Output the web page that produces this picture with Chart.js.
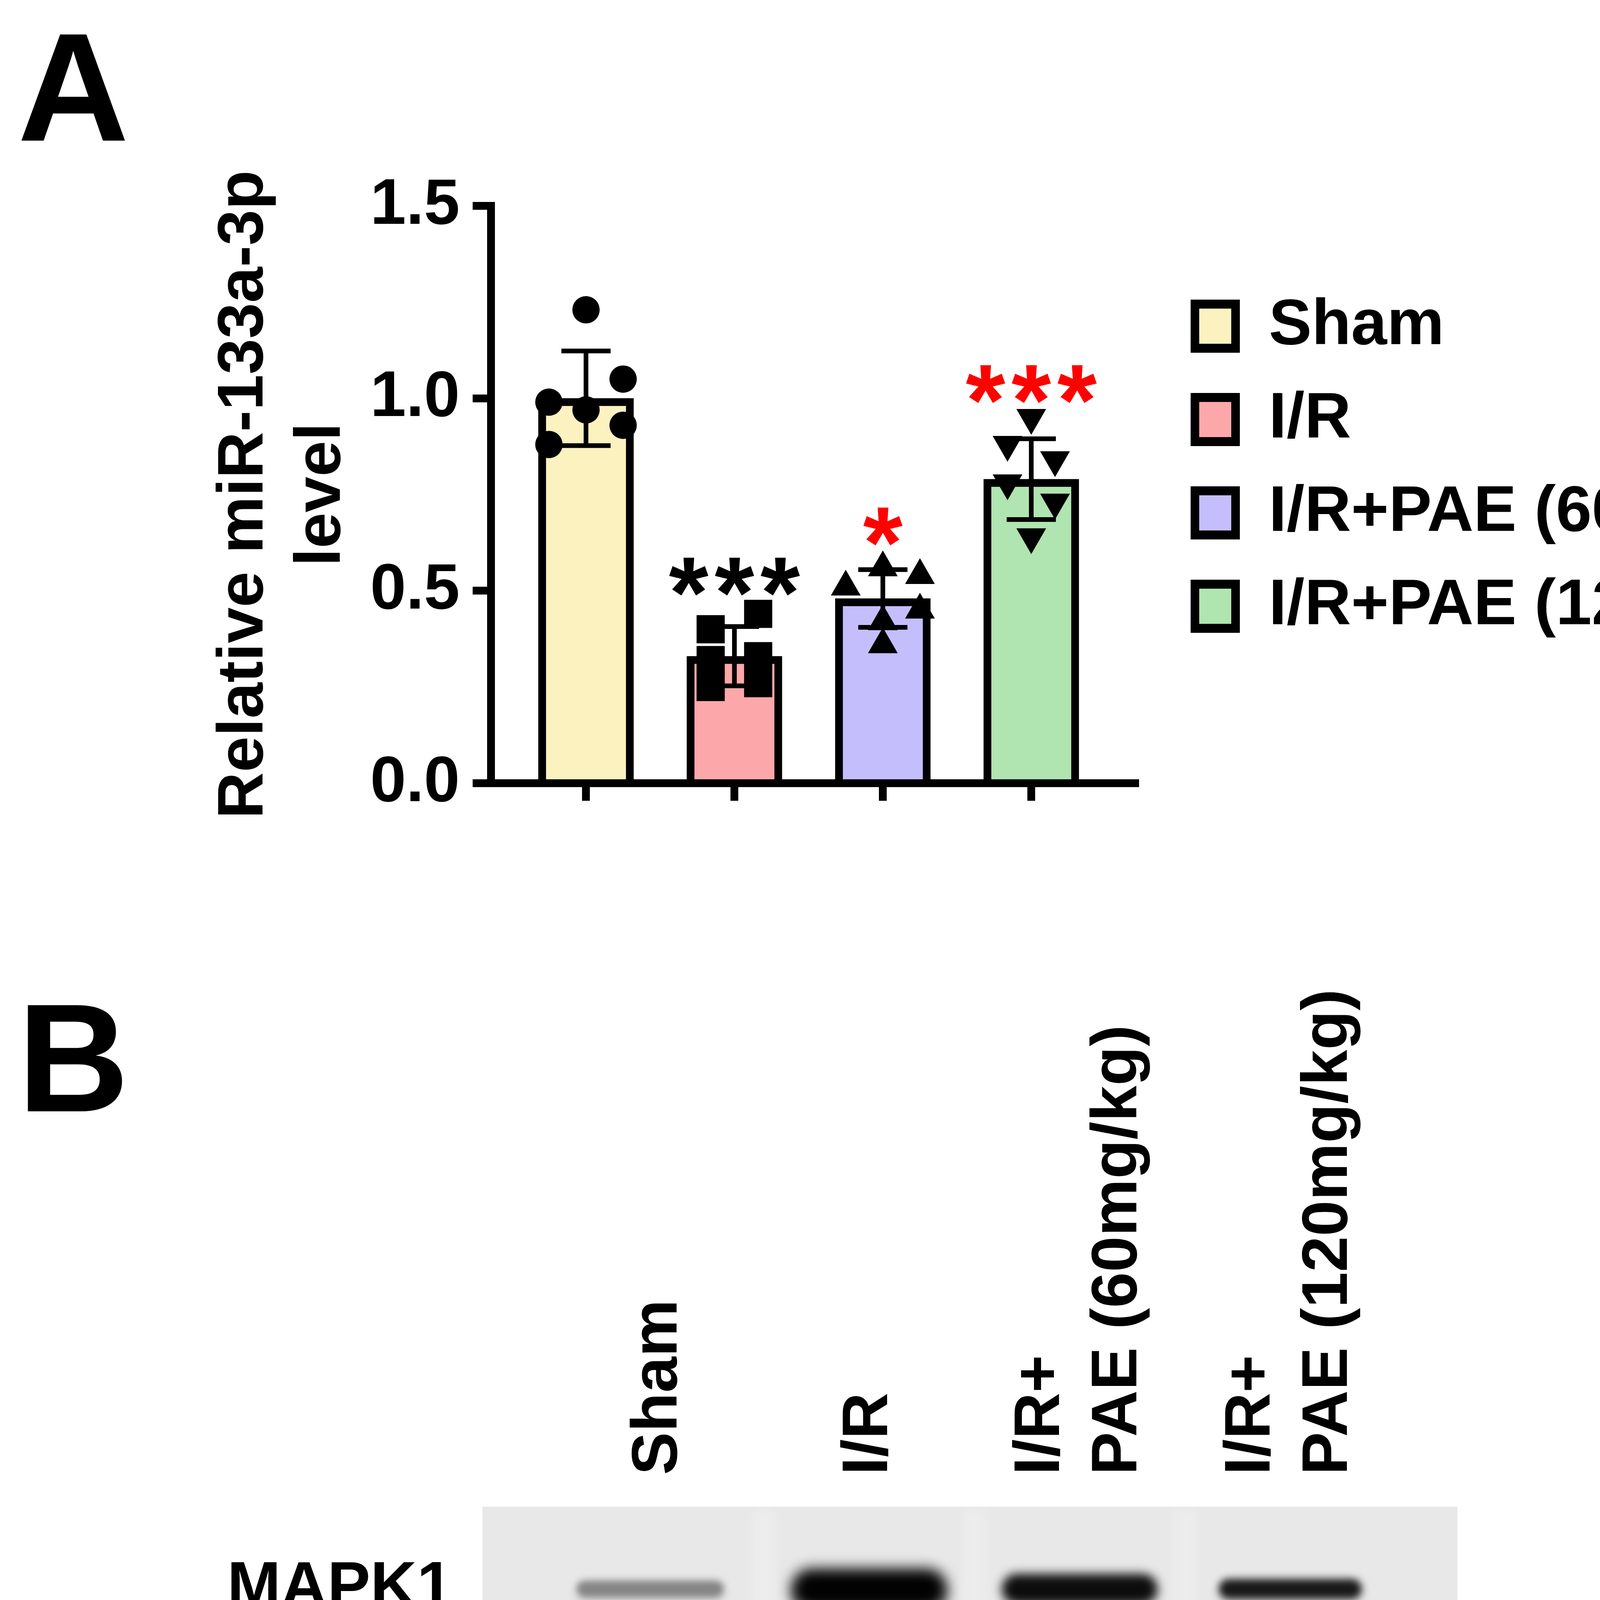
<!DOCTYPE html>
<html>
<head>
<meta charset="utf-8">
<title>miR-133a-3p and MAPK1</title>
<script src="https://cdn.jsdelivr.net/npm/chart.js@4.4.1/dist/chart.umd.min.js"></script>
<style>
  html, body { margin: 0; padding: 0; background: #fff; }
  #page { position: relative; width: 4866px; height: 7040px; background: #fff; overflow: hidden; }
  canvas { position: absolute; left: 0; }
</style>
</head>
<body>
<div id="page">
  <canvas id="chartA" width="4866" height="2250" style="top:0px;width:4866px;height:2250px"></canvas>
  <canvas id="blot" width="4866" height="2500" style="top:2400px;width:4866px;height:2500px"></canvas>
  <canvas id="chartB" width="4866" height="2250" style="top:4853px;width:4866px;height:2250px"></canvas>
</div>
<script>
// ---- data ----
var groups = ['Sham', 'I/R', 'I/R+PAE (60mg/kg)', 'I/R+PAE (120mg/kg)'];
var yTickValues = [0, 0.5, 1.0, 1.5];
var yTickLabels = ['0.0', '0.5', '1.0', '1.5'];

// panel A: relative miR-133a-3p level
var mirMean = [1.00, 0.33, 0.48, 0.79];
var mirSD = [0.123, 0.077, 0.075, 0.105];
var mirSham = [1.23, 1.05, 0.99, 0.97, 0.93, 0.88];
var mirIR = [0.44, 0.40, 0.33, 0.32, 0.26, 0.25];
var mirPAE60 = [0.56, 0.54, 0.51, 0.45, 0.42, 0.36];
var mirPAE120 = [0.95, 0.88, 0.84, 0.78, 0.73, 0.64];
var mirStars = ['', '***', '*', '***'];
var mirStarAt = [null, 0.55, 0.68, 1.05];

// panel B: relative MAPK1 protein level
var mapkMean = [0.05, 0.96, 0.62, 0.18];
var mapkSD = [0.012, 0.096, 0.09, 0.042];
var mapkSham = [0.044, 0.072, 0.054, 0.063, 0.046, 0.056];
var mapkIR = [1.14, 0.975, 0.925, 0.932, 0.875, 0.916];
var mapkPAE60 = [0.713, 0.662, 0.676, 0.609, 0.573, 0.462];
var mapkPAE120 = [0.20, 0.241, 0.222, 0.213, 0.141, 0.138];
var mapkStars = ['', '***', '***', '***'];
var mapkStarAt = [null, 1.26, 0.84, 0.34];

// western blot
var blotLanes = [['Sham'], ['I/R'], ['I/R+', 'PAE (60mg/kg)'], ['I/R+', 'PAE (120mg/kg)']];
var blotRows = ['MAPK1', 'GAPDH'];
var mapk1Density = [0.42, 1.0, 0.95, 0.9];
var gapdhDensity = [1.0, 1.0, 1.0, 1.0];

// ---- styling ----
var FONT = '"Liberation Sans", Arial, Helvetica, sans-serif';
var fillColors = ['#FBF2C0', '#FCA8AA', '#C4BEFC', '#B0E4B0'];
var starColors = ['#000', '#000', '#FF0000', '#FF0000'];
// horizontal scatter of the dots inside each bar (in category units)
var jitA = [[0, 0.25, -0.25, 0, 0.25, -0.25], [0.16, -0.16, 0.16, -0.16, 0.16, -0.16],
            [0, 0.25, -0.25, 0.25, 0, 0], [0, -0.16, 0.16, -0.16, 0.16, 0]];
var jitB = [[-0.26, -0.16, -0.05, 0.05, 0.15, 0.25], [0, 0.25, 0.25, -0.25, -0.25, 0],
            [-0.25, 0, 0.25, 0.25, 0, 0], [-0.25, -0.08, 0.09, 0.25, -0.08, 0.09]];

Chart.defaults.font.family = FONT;
Chart.defaults.color = '#000';

function pointSet(values, jitter, group, style, rotation, radius) {
    return {
        type: 'scatter',
        data: values.map(function (v, k) { return {x: group + jitter[k], y: v}; }),
        pointStyle: style,
        pointRotation: rotation,
        pointRadius: radius,
        pointHoverRadius: radius,
        pointBackgroundColor: '#000',
        pointBorderColor: '#000',
        pointBorderWidth: 0,
        order: 1
    };
}

// error bars go between the bars and the dots
var errorBars = {
    id: 'errorBars',
    afterDatasetDraw: function (chart, args, opts) {
        if (args.index !== 0) return;
        var ctx = chart.ctx, x = chart.scales.x, y = chart.scales.y;
        ctx.save();
        ctx.strokeStyle = '#000';
        ctx.lineWidth = 12;
        opts.mean.forEach(function (m, i) {
            var px = x.getPixelForValue(i);
            var top = y.getPixelForValue(m + opts.sd[i]);
            var bot = y.getPixelForValue(Math.max(0, m - opts.sd[i]));
            ctx.beginPath();
            ctx.moveTo(px, top); ctx.lineTo(px, bot);
            ctx.moveTo(px - 63, top); ctx.lineTo(px + 63, top);
            ctx.moveTo(px - 63, bot); ctx.lineTo(px + 63, bot);
            ctx.stroke();
        });
        ctx.restore();
    }
};

// stars, legend and panel letter
var extras = {
    id: 'extras',
    afterDraw: function (chart, args, opts) {
        var ctx = chart.ctx, x = chart.scales.x, y = chart.scales.y, area = chart.chartArea;
        ctx.save();
        ctx.font = 'bold 260px ' + FONT;
        ctx.textAlign = 'center';
        ctx.textBaseline = 'alphabetic';
        if ('letterSpacing' in ctx) ctx.letterSpacing = '16px';
        opts.stars.forEach(function (s, i) {
            if (!s) return;
            ctx.fillStyle = opts.starColors[i];
            ctx.fillText(s, x.getPixelForValue(i) + 8, y.getPixelForValue(opts.starAt[i]) + 0.552 * 260);
        });
        if ('letterSpacing' in ctx) ctx.letterSpacing = '0px';

        // legend
        var boxL = area.right + 142, textL = area.right + 342;
        var y0 = area.top + 308, step = 239;
        ctx.textAlign = 'left';
        ctx.textBaseline = 'middle';
        ctx.font = 'bold 165px ' + FONT;
        groups.forEach(function (g, i) {
            var cy = y0 + i * step;
            ctx.fillStyle = '#000';
            ctx.fillRect(boxL, cy - 68, 126, 136);
            ctx.fillStyle = fillColors[i];
            ctx.fillRect(boxL + 22, cy - 45, 82, 90);
            ctx.fillStyle = '#000';
            ctx.fillText(g, textL, cy);
        });

        if (opts.letter) {
            ctx.font = 'bold 395px ' + FONT;
            ctx.textBaseline = 'alphabetic';
            ctx.fillText(opts.letter, 45, 360);
        }
        ctx.restore();
    }
};

function barChart(id, mean, sd, sets, title, stars, starAt, letter, jit) {
    var datasets = [{
        type: 'bar',
        data: mean.map(function (v, i) { return {x: i, y: v}; }),
        backgroundColor: fillColors,
        borderColor: '#000',
        borderWidth: 20,
        barThickness: 244,
        order: 2
    }];
    datasets.push(pointSet(sets[0], jit[0], 0, 'circle', 0, 35));
    datasets.push(pointSet(sets[1], jit[1], 1, 'rect', 0, 51));
    datasets.push(pointSet(sets[2], jit[2], 2, 'triangle', 0, 44));
    datasets.push(pointSet(sets[3], jit[3], 3, 'triangle', 180, 44));

    return new Chart(document.getElementById(id), {
        type: 'bar',
        data: {datasets: datasets},
        options: {
            responsive: false,
            animation: false,
            devicePixelRatio: 1,
            events: [],
            layout: {padding: {left: 527, right: 1960, top: 527, bottom: 0}},
            plugins: {
                legend: {display: false},
                tooltip: {enabled: false},
                errorBars: {mean: mean, sd: sd},
                extras: {stars: stars, starAt: starAt, starColors: starColors, letter: letter}
            },
            scales: {
                x: {
                    type: 'linear',
                    min: -0.64,
                    max: 3.70,
                    offset: false,
                    afterBuildTicks: function (s) { s.ticks = [0, 1, 2, 3].map(function (v) { return {value: v}; }); },
                    afterFit: function (s) { s.height = 245; },
                    ticks: {display: false},
                    grid: {offset: false, drawOnChartArea: false, drawTicks: true, tickLength: 45, lineWidth: 20, color: '#000'},
                    border: {display: true, width: 20, color: '#000'}
                },
                y: {
                    type: 'linear',
                    min: 0,
                    max: 1.5,
                    afterBuildTicks: function (s) { s.ticks = yTickValues.map(function (v) { return {value: v}; }); },
                    afterFit: function (s) { s.width = 730; },
                    ticks: {
                        callback: function (v) { return yTickLabels[yTickValues.indexOf(v)]; },
                        font: {size: 165, weight: 'bold'},
                        padding: 33,
                        color: '#000'
                    },
                    grid: {drawOnChartArea: false, tickLength: 47, lineWidth: 20, color: '#000'},
                    border: {display: true, width: 20, color: '#000'},
                    title: {display: true, text: title, font: {size: 165, weight: 'bold', lineHeight: 1.2}, padding: 0, color: '#000'}
                }
            }
        },
        plugins: [errorBars, extras]
    });
}

barChart('chartA', mirMean, mirSD, [mirSham, mirIR, mirPAE60, mirPAE120],
    ['Relative miR-133a-3p', 'level'], mirStars, mirStarAt, 'A', jitA);
barChart('chartB', mapkMean, mapkSD, [mapkSham, mapkIR, mapkPAE60, mapkPAE120],
    ['Relative MAPK1 protein', 'level'], mapkStars, mapkStarAt, null, jitB);

// ---- western blot picture ----
var membranes = [{top: 100, bottom: 57.6, band: 79.1}, {top: 42.4, bottom: 0, band: 20.9}];
var mapk1Thick = [44, 105, 78, 52];
var mapk1Half = [0.35, 0.37, 0.37, 0.34];
var mapk1Shift = [-0.04, 0, 0, 0];
var gapdhThick = [100, 100, 100, 100];
var gapdhHalf = [0.46, 0.45, 0.47, 0.42];
var gapdhShift = [0.03, 0.04, 0.04, -0.03];
var smearAlpha = [0.05, 0.24, 0.06, 0.05];

function band(ctx, cx, cy, halfW, h, density) {
    var g = Math.round(228 - 226 * density);
    ctx.save();
    ctx.filter = 'blur(' + Math.round(h * 0.12 + 4) + 'px)';
    ctx.fillStyle = 'rgb(' + g + ',' + g + ',' + g + ')';
    ctx.beginPath();
    if (ctx.roundRect) {
        ctx.roundRect(cx - halfW, cy - h / 2, 2 * halfW, h, h / 2);
    } else {
        ctx.ellipse(cx, cy, halfW, h / 2, 0, 0, Math.PI * 2);
    }
    ctx.fill();
    ctx.restore();
}

var blotDraw = {
    id: 'blotDraw',
    afterDraw: function (chart) {
        var ctx = chart.ctx, x = chart.scales.x, y = chart.scales.y, area = chart.chartArea;
        ctx.save();

        // membranes
        membranes.forEach(function (m, r) {
            var t = y.getPixelForValue(m.top), b = y.getPixelForValue(m.bottom);
            ctx.fillStyle = r === 0 ? '#e8e8e8' : '#eaeaea';
            ctx.fillRect(area.left, t, area.right - area.left, b - t);
            if (r === 0) {
                // slightly lighter gaps between lanes
                ctx.save();
                ctx.filter = 'blur(12px)';
                ctx.fillStyle = 'rgba(255,255,255,0.22)';
                [0.5, 1.5, 2.5].forEach(function (g) {
                    var gx = x.getPixelForValue(g);
                    ctx.fillRect(gx - 30, t + 6, 60, b - t - 12);
                });
                ctx.restore();
            }
        });

        // MAPK1 smear under the bands
        var m0 = membranes[0];
        blotLanes.forEach(function (l, i) {
            var cx = x.getPixelForValue(i + mapk1Shift[i]);
            var hw = x.getPixelForValue(i + mapk1Half[i]) - x.getPixelForValue(i);
            var top = y.getPixelForValue(m0.band), bot = y.getPixelForValue(m0.bottom);
            var grad = ctx.createLinearGradient(0, top, 0, bot);
            grad.addColorStop(0, 'rgba(40,40,40,' + smearAlpha[i] + ')');
            grad.addColorStop(1, 'rgba(40,40,40,' + (smearAlpha[i] * 0.6) + ')');
            ctx.save();
            ctx.filter = 'blur(14px)';
            ctx.fillStyle = grad;
            ctx.fillRect(cx - hw, top, 2 * hw, bot - top - 6);
            ctx.restore();
        });

        // bands
        mapk1Density.forEach(function (d, i) {
            var cx = x.getPixelForValue(i + mapk1Shift[i]);
            var hw = x.getPixelForValue(i + mapk1Half[i]) - x.getPixelForValue(i);
            band(ctx, cx, y.getPixelForValue(membranes[0].band), hw, mapk1Thick[i], d);
        });
        gapdhDensity.forEach(function (d, i) {
            var cx = x.getPixelForValue(i + gapdhShift[i]);
            var hw = x.getPixelForValue(i + gapdhHalf[i]) - x.getPixelForValue(i);
            band(ctx, cx, y.getPixelForValue(membranes[1].band), hw, gapdhThick[i], d);
        });

        // row names
        ctx.fillStyle = '#000';
        ctx.font = 'bold 165px ' + FONT;
        ctx.textAlign = 'right';
        ctx.textBaseline = 'middle';
        ctx.fillText(blotRows[0], area.left - 76, y.getPixelForValue(membranes[0].band));
        ctx.fillText(blotRows[1], area.left - 87, y.getPixelForValue(membranes[1].band));

        // lane names, rotated
        ctx.textAlign = 'left';
        blotLanes.forEach(function (lines, i) {
            var cx = x.getPixelForValue(i);
            lines.forEach(function (txt, j) {
                var lx = cx + (j - (lines.length - 1) / 2) * 198;
                ctx.save();
                ctx.translate(lx, area.top - 81);
                ctx.rotate(-Math.PI / 2);
                ctx.fillText(txt, 0, 0);
                ctx.restore();
            });
        });

        // panel letter
        ctx.font = 'bold 395px ' + FONT;
        ctx.textBaseline = 'alphabetic';
        ctx.fillText('B', 45, 445);
        ctx.restore();
    }
};

new Chart(document.getElementById('blot'), {
    type: 'scatter',
    data: {datasets: []},
    options: {
        responsive: false,
        animation: false,
        devicePixelRatio: 1,
        events: [],
        layout: {padding: {left: 1235, right: 1135, top: 1457, bottom: 34}},
        plugins: {legend: {display: false}, tooltip: {enabled: false}},
        scales: {
            x: {type: 'linear', display: false, min: -0.837, max: 3.794},
            y: {type: 'linear', display: false, min: 0, max: 100}
        }
    },
    plugins: [blotDraw]
});
</script>
</body>
</html>
